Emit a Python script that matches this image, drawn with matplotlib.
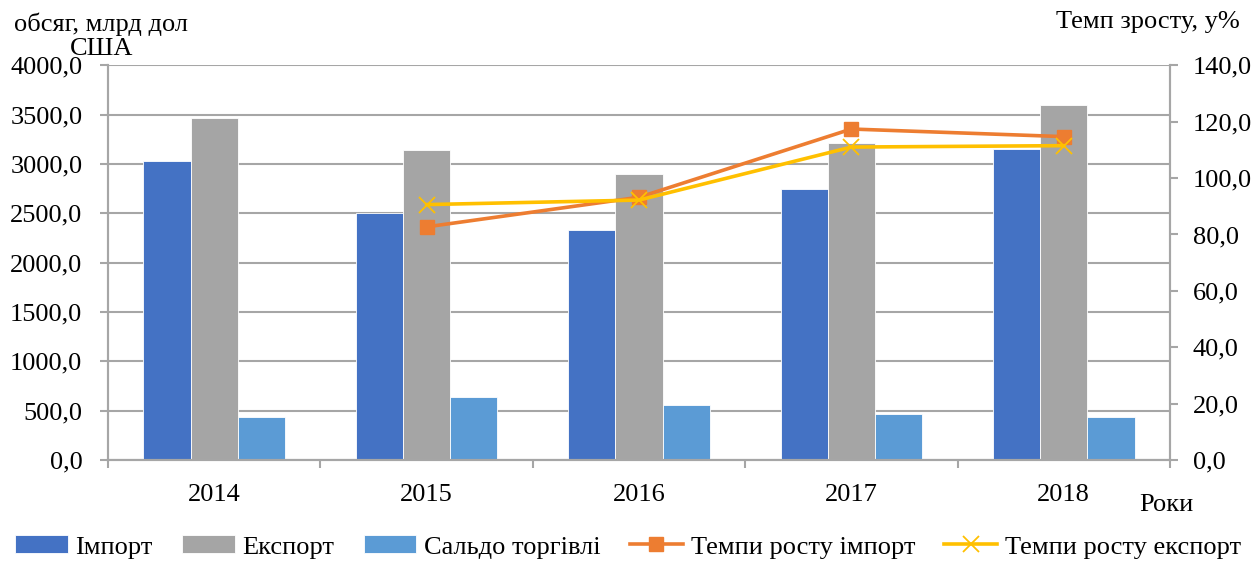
import numpy as np
import matplotlib
matplotlib.use("Agg")
import matplotlib.pyplot as plt

plt.rcParams['font.family'] = ['Liberation Serif', 'DejaVu Serif']

years = ['2014', '2015', '2016', '2017', '2018']
imports = [3030.0, 2500.0, 2331.0, 2744.0, 3150.0]
exports = [3466.0, 3145.0, 2895.0, 3216.0, 3595.0]
saldo = [432.0, 638.0, 557.0, 470.0, 439.0]
imp_growth = [None, 82.7, 93.2, 117.4, 114.7]
exp_growth = [None, 90.6, 92.2, 111.0, 111.5]

c_imp = '#4472C4'
c_exp = '#A5A5A5'
c_sal = '#5B9BD5'
c_or = '#ED7D31'
c_ye = '#FFC000'
grid_c = '#A6A6A6'
fs = 19

fig = plt.figure(figsize=(12.56, 5.61), dpi=100)
ax = fig.add_axes([0.086, 0.18, 0.8455, 0.7036])
x = np.arange(len(years))
w = 1 / 4.5

ax.bar(x - w, imports, w, color=c_imp, edgecolor='white', linewidth=0.6, label='Імпорт', zorder=2)
ax.bar(x, exports, w, color=c_exp, edgecolor='white', linewidth=0.6, label='Експорт', zorder=2)
ax.bar(x + w, saldo, w, color=c_sal, edgecolor='white', linewidth=0.6, label='Сальдо торгівлі', zorder=2)

ax.set_xlim(-0.5, 4.5)
ax.set_ylim(0, 4000)
ax.set_yticks(np.arange(0, 4001, 500))
ax.set_yticklabels([f'{v:.1f}'.replace('.', ',') for v in np.arange(0, 4001, 500)])
ax.yaxis.grid(True, color=grid_c, linewidth=1.5, zorder=0)
ax.set_axisbelow(True)
ax.set_xticks(x)
ax.set_xticklabels(years)
ax.set_xticks(np.arange(-0.5, 4.6, 1), minor=True)
ax.tick_params(axis='x', which='major', length=0, pad=17, labelsize=fs)
ax.tick_params(axis='x', which='minor', length=5.5, color=grid_c, width=1.5)
ax.tick_params(axis='y', length=5.5, color=grid_c, width=1.5, labelsize=fs, pad=13)
for s in ['left', 'bottom', 'right']:
    ax.spines[s].set_color(grid_c)
    ax.spines[s].set_linewidth(1.5)
ax.spines['top'].set_visible(False)

ax2 = ax.twinx()
ax2.set_ylim(0, 140)
ax2.set_yticks(np.arange(0, 141, 20))
ax2.set_yticklabels([f'{v:.1f}'.replace('.', ',') for v in np.arange(0, 141, 20)])
ax2.tick_params(axis='y', length=5.5, color=grid_c, width=1.5, labelsize=fs, pad=11)
for s in ['left', 'bottom', 'right']:
    ax2.spines[s].set_color(grid_c)
    ax2.spines[s].set_linewidth(1.5)
ax2.spines['top'].set_visible(False)

ig = np.array([np.nan if v is None else v for v in imp_growth])
eg = np.array([np.nan if v is None else v for v in exp_growth])
ax2.plot(x, ig, color=c_or, linewidth=2.6, marker='s', markersize=10,
         label='Темпи росту імпорт', zorder=3)
ax2.plot(x, eg, color=c_ye, linewidth=2.6, marker='x', markersize=11,
         markeredgewidth=1.3, label='Темпи росту експорт', zorder=4)

fig.text(0.0805, 0.978, 'обсяг, млрд дол\nСША', ha='center', va='top',
         fontsize=fs, linespacing=1.12)
fig.text(0.9136, 0.961, 'Темп зросту, у%', ha='center', va='center', fontsize=fs)
fig.text(0.929, 0.099, 'Роки', ha='center', va='center', fontsize=fs)

h1, l1 = ax.get_legend_handles_labels()
h2, l2 = ax2.get_legend_handles_labels()
fig.legend(h1 + h2, l1 + l2, loc='center', bbox_to_anchor=(0.5, 0.025), ncol=5,
           frameon=False, fontsize=fs, handlelength=2.0, handleheight=0.65,
           handletextpad=0.3, columnspacing=1.1, borderpad=0.2)

fig.savefig('out.png', dpi=100)
